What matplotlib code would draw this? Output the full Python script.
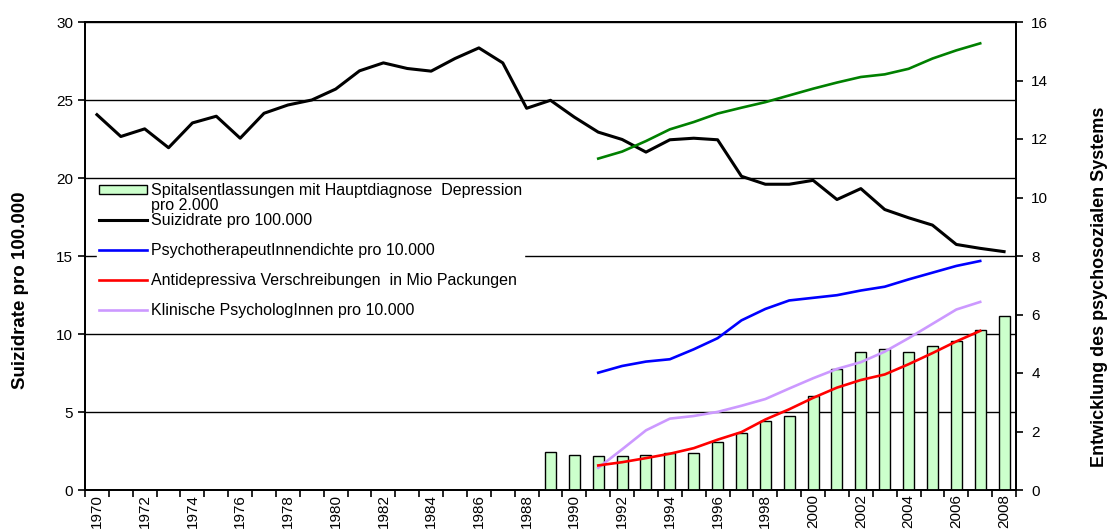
import matplotlib
matplotlib.use("Agg")
import matplotlib.pyplot as plt
from matplotlib.lines import Line2D
from matplotlib.patches import Patch

plt.rcParams['font.family'] = ['Liberation Sans', 'DejaVu Sans']

years = list(range(1970, 2009))
suizid = [24.06, 22.66, 23.15, 21.94, 23.53, 23.96, 22.55, 24.15, 24.68, 25.0,
          25.70, 26.87, 27.38, 27.02, 26.85, 27.66, 28.34, 27.38, 24.47, 24.98,
          23.9, 22.94, 22.47, 21.66, 22.45, 22.55, 22.45, 20.11, 19.6, 19.6,
          19.85, 18.62, 19.32, 17.98, 17.45, 16.98, 15.74, 15.49, 15.28]

bar_years = list(range(1989, 2009))
spital = [1.30, 1.19, 1.15, 1.15, 1.19, 1.26, 1.25, 1.63, 1.96, 2.36,
          2.54, 3.22, 4.15, 4.71, 4.81, 4.71, 4.91, 5.11, 5.48, 5.96]

line_years = list(range(1991, 2008))
green = [11.33, 11.57, 11.93, 12.33, 12.58, 12.87, 13.07, 13.26, 13.49, 13.72,
         13.93, 14.12, 14.21, 14.40, 14.75, 15.03, 15.27]
psychotherap = [4.01, 4.24, 4.39, 4.47, 4.81, 5.19, 5.80, 6.19, 6.48, 6.57,
                6.66, 6.82, 6.95, 7.20, 7.43, 7.66, 7.83]
antidep = [0.84, 0.95, 1.09, 1.24, 1.43, 1.72, 1.98, 2.41, 2.76, 3.15,
           3.50, 3.76, 3.95, 4.30, 4.68, 5.08, 5.44]
klin_psych = [0.76, 1.39, 2.04, 2.44, 2.53, 2.67, 2.88, 3.11, 3.47, 3.82,
              4.14, 4.37, 4.73, 5.19, 5.68, 6.17, 6.43]

labels = ["Spitalsentlassungen mit Hauptdiagnose  Depression",
          "pro 2.000",
          "Suizidrate pro 100.000",
          "",
          "PsychotherapeutInnendichte pro 10.000",
          "",
          "Antidepressiva Verschreibungen  in Mio Packungen",
          "",
          "Klinische PsychologInnen pro 10.000"]

fig = plt.figure(figsize=(11.10, 5.31), dpi=100)
ax = fig.add_axes([85/1110, 41/531, 931/1110, 468/531])
ax2 = ax.twinx()

# left axis
ax.set_xlim(1969.5, 2008.5)
ax.set_ylim(0, 30)
ax.set_yticks(range(0, 31, 5))
ax.yaxis.grid(True, color='black', linewidth=1.0)
ax.set_axisbelow(True)
ax.plot(years, suizid, color='black', linewidth=2.2, zorder=3)

# right axis
ax2.set_ylim(0, 16)
ax2.set_yticks(range(0, 17, 2))
ax2.bar(bar_years, spital, width=0.46, color='#CCFFCC', edgecolor='black',
        linewidth=1.0, zorder=2)
ax2.plot(line_years, green, color='#008000', linewidth=1.9, zorder=3)
ax2.plot(line_years, psychotherap, color='#0000FF', linewidth=1.9, zorder=3)
ax2.plot(line_years, antidep, color='#FF0000', linewidth=1.9, zorder=4)
ax2.plot(line_years, klin_psych, color='#CC99FF', linewidth=1.9, zorder=3)

# x ticks: boundaries as major ticks, labels at centres
ax.set_xticks([y - 0.5 for y in years] + [2008.5])
ax.set_xticklabels([])
ax.set_xticks(years[::2], minor=True)
ax.set_xticklabels([str(y) for y in years[::2]], minor=True, rotation=90,
                   fontsize=11)
ax.tick_params(axis='x', which='major', direction='out', length=5, width=1.2)
ax.tick_params(axis='x', which='minor', length=0, pad=3)
ax.tick_params(axis='y', direction='out', length=5, width=1.2, labelsize=11)
ax2.tick_params(axis='y', direction='out', length=5, width=1.2, labelsize=11,
                pad=6)

for a in (ax, ax2):
    for s in a.spines.values():
        s.set_linewidth(1.3)
        s.set_color('black')

ax.set_ylabel("Suizidrate pro 100.000", fontsize=13.5, fontweight='bold')
ax.yaxis.set_label_coords(-0.060, 0.427)
ax2.set_ylabel("Entwicklung des psychosozialen Systems", fontsize=13,
               fontweight='bold')
ax2.yaxis.set_label_coords(1.0806, 0.434)

blank = Line2D([], [], linestyle='none')
handles = [Patch(facecolor='#CCFFCC', edgecolor='black', linewidth=1.0),
           blank,
           Line2D([], [], color='black', linewidth=2.2),
           blank,
           Line2D([], [], color='#0000FF', linewidth=1.9),
           blank,
           Line2D([], [], color='#FF0000', linewidth=1.9),
           blank,
           Line2D([], [], color='#CC99FF', linewidth=1.9)]
leg = ax2.legend(handles, labels, loc='upper left',
                 bbox_to_anchor=(0.0125, 0.6605), fontsize=11.5,
                 frameon=True, facecolor='white', edgecolor='white',
                 framealpha=1.0, fancybox=False, handlelength=3.0,
                 handleheight=0.45, handletextpad=0.25, labelspacing=0.0,
                 borderpad=0.15, borderaxespad=0.0)
leg.set_zorder(10)

fig.savefig("out.png", dpi=100)
